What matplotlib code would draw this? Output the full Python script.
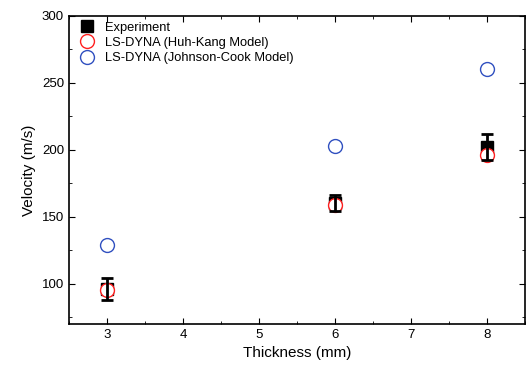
import matplotlib
matplotlib.use('Agg')
import matplotlib.pyplot as plt
from matplotlib.ticker import MultipleLocator

plt.rcParams['font.family'] = ['Liberation Sans', 'DejaVu Sans']

thickness = [3, 6, 8]
exp_velocity = [96, 160, 202]
exp_error = [8, 6, 10]
huh_kang = [95, 159, 196]
johnson_cook = [129, 203, 260]

fig = plt.figure(figsize=(5.26, 3.68), dpi=100)
ax = fig.add_axes([0.131, 0.12, 0.868, 0.837])

ax.plot(thickness, exp_velocity, 's', color='black', markersize=8,
        label='Experiment', zorder=2)
ax.plot(thickness, huh_kang, 'o', markerfacecolor='white', markeredgecolor='#ff2020',
        markersize=10, markeredgewidth=1, label='LS-DYNA (Huh-Kang Model)', zorder=3)
ax.plot(thickness, johnson_cook, 'o', markerfacecolor='white', markeredgecolor='#3050c0',
        markersize=10, markeredgewidth=1, label='LS-DYNA (Johnson-Cook Model)', zorder=3)
ax.errorbar(thickness, exp_velocity, yerr=exp_error, fmt='none', ecolor='black',
            elinewidth=2, capsize=4, capthick=2, zorder=4)

ax.set_xlim(2.5, 8.5)
ax.set_ylim(70, 300)
ax.xaxis.set_major_locator(MultipleLocator(1))
ax.xaxis.set_minor_locator(MultipleLocator(0.5))
ax.yaxis.set_major_locator(MultipleLocator(50))
ax.yaxis.set_minor_locator(MultipleLocator(25))
ax.tick_params(which='both', direction='in', top=True, right=True, labelsize=9.5)
ax.tick_params(which='major', length=4)
ax.tick_params(which='minor', length=2)
for s in ax.spines.values():
    s.set_linewidth(1.2)

ax.set_xlabel('Thickness (mm)', fontsize=11)
ax.set_ylabel('Velocity (m/s)', fontsize=11)

ax.legend(loc='upper left', bbox_to_anchor=(0.01, 1.0), frameon=False,
          fontsize=9.3, handletextpad=0.8, labelspacing=0.25,
          borderaxespad=0.15, handlelength=1.2, borderpad=0.3)

fig.savefig('out.png', dpi=100)
